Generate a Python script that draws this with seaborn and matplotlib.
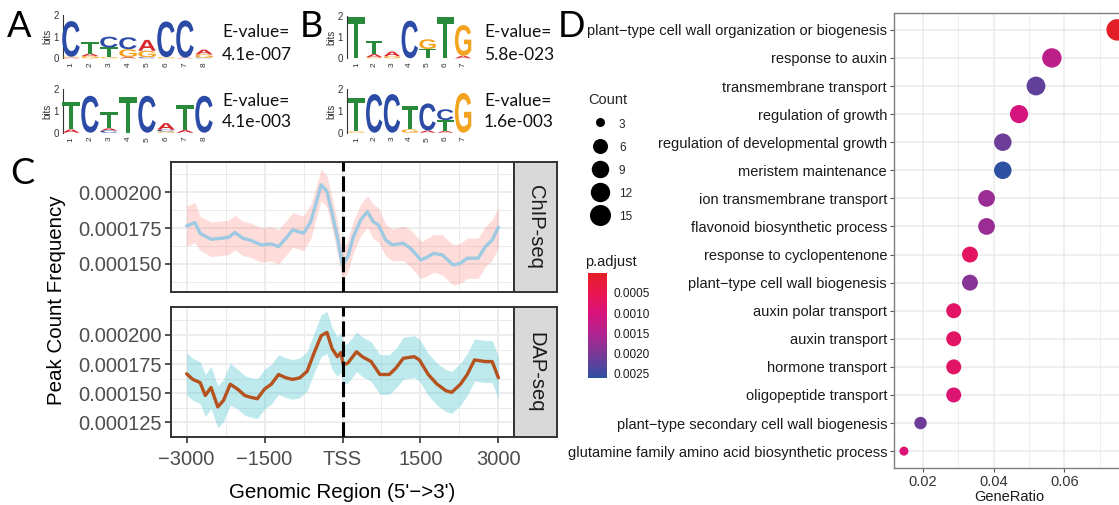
import numpy as np
import pandas as pd
import matplotlib
matplotlib.use("Agg")
import matplotlib.pyplot as plt
import seaborn as sns
from matplotlib import patheffects
from matplotlib.transforms import Affine2D
from matplotlib.colors import LinearSegmentedColormap, Normalize
from matplotlib.cm import ScalarMappable
from matplotlib.lines import Line2D
from matplotlib.ticker import FixedLocator

# ------------------------------------------------------------------ data
# Motif logos: per position, stacked letters bottom -> top as (letter, bits)
logo_A1 = [[("A", 0.03), ("G", 0.04), ("C", 1.65)],
           [("G", 0.10), ("A", 0.12), ("T", 0.55)],
           [("G", 0.06), ("T", 0.44), ("C", 0.50)],
           [("A", 0.06), ("G", 0.36), ("C", 0.55)],
           [("C", 0.05), ("G", 0.30), ("A", 0.50)],
           [("G", 0.05), ("C", 1.65)],
           [("A", 0.03), ("C", 1.72)],
           [("C", 0.03), ("G", 0.15), ("A", 0.22)]]
logo_A2 = [[("A", 0.15), ("T", 1.28)],
           [("C", 1.70)],
           [("C", 0.10), ("A", 0.10), ("T", 0.75)],
           [("T", 1.66)],
           [("C", 1.70)],
           [("G", 0.06), ("C", 0.08), ("A", 0.30)],
           [("A", 0.12), ("T", 1.15)],
           [("C", 1.70)]]
logo_B1 = [[("T", 1.95)],
           [("G", 0.05), ("A", 0.15), ("T", 0.63)],
           [("G", 0.10), ("A", 0.22)],
           [("C", 1.78)],
           [("T", 0.44), ("G", 0.46)],
           [("T", 1.95)],
           [("A", 0.12), ("G", 1.45)]]
logo_B2 = [[("G", 0.06), ("T", 1.56)],
           [("C", 1.78)],
           [("C", 1.78)],
           [("G", 0.15), ("T", 1.08)],
           [("A", 0.10), ("C", 1.25)],
           [("A", 0.08), ("T", 0.50), ("C", 0.50)],
           [("G", 1.83)]]
evalues_A = ["4.1e-007", "4.1e-003"]
evalues_B = ["5.8e-023", "1.6e-003"]

# Peak profiles (values in units of 1e-6)
chip_pos = [-3000, -2840, -2740, -2530, -2330, -2190, -2070, -1920, -1780, -1570, -1370,
            -1230, -1090, -960, -750, -610, -510, -410, -300, -200, -100, 0, 100, 210, 350,
            480, 590, 690, 830, 960, 1170, 1310, 1510, 1650, 1750, 1920, 2130, 2270, 2400,
            2610, 2750, 2880, 3000]
chip_mean = [176.5, 178.8, 171.4, 167.2, 167.9, 168.6, 171.9, 167.9, 166.7, 163.3, 164.0,
             162.0, 167.9, 173.7, 171.4, 179.5, 192.3, 205.1, 200.5, 185.3, 169.0, 149.3,
             155.1, 169.0, 180.7, 186.5, 179.5, 177.2, 166.7, 163.3, 164.4, 160.9, 152.8,
             155.1, 157.4, 156.3, 149.3, 150.5, 154.0, 154.0, 162.1, 166.7, 175.6]
chip_ci = [14, 14, 12, 12, 12, 12, 12, 12, 12, 12, 12, 12, 12, 12, 12, 12, 11, 11, 11, 11,
           11, 11, 11, 11, 11, 11, 12, 12, 11, 11, 12, 13, 13, 13, 13, 14, 14, 14, 14, 14,
           14, 14, 14]
dap_pos = [-3000, -2880, -2740, -2640, -2530, -2400, -2290, -2160, -2020, -1880, -1780,
           -1640, -1500, -1370, -1230, -1090, -960, -820, -680, -550, -410, -300, -200, -100,
           -30, 15, 100, 270, 380, 550, 720, 900, 1030, 1170, 1380, 1480, 1650, 1820, 1990,
           2100, 2270, 2400, 2540, 2750, 2880, 3000]
dap_mean = [166.7, 161.9, 159.2, 148.1, 155.0, 138.3, 143.9, 157.8, 153.6, 148.1, 146.7,
            145.3, 153.6, 157.8, 166.1, 163.3, 161.9, 163.3, 168.9, 184.2, 199.4, 202.2,
            188.3, 181.4, 185.0, 174.4, 175.8, 185.6, 181.4, 177.2, 166.1, 166.1, 171.7,
            180.0, 181.4, 178.6, 166.1, 157.8, 152.2, 150.8, 157.8, 166.1, 178.6, 177.2,
            177.2, 163.3]
dap_ci = [18, 18, 18, 18, 18, 18, 18, 18, 17, 17, 17, 17, 17, 17, 17, 17, 17, 17, 17, 17,
          18, 18, 18, 17, 17, 17, 17, 17, 17, 17, 17, 17, 17, 18, 18, 18, 18, 18, 18, 18,
          18, 18, 18, 18, 18, 18]
chip_yticks = [0.000150, 0.000175, 0.000200]
chip_yticklabels = ["0.000150", "0.000175", "0.000200"]
dap_yticks = [0.000125, 0.000150, 0.000175, 0.000200]
dap_yticklabels = ["0.000125", "0.000150", "0.000175", "0.000200"]
profile_xticks = [-3000, -1500, 0, 1500, 3000]
profile_xticklabels = ["\u22123000", "\u22121500", "TSS", "1500", "3000"]

# GO enrichment dot plot
go_terms = ["plant\u2212type cell wall organization or biogenesis", "response to auxin",
            "transmembrane transport", "regulation of growth",
            "regulation of developmental growth", "meristem maintenance",
            "ion transmembrane transport", "flavonoid biosynthetic process",
            "response to cyclopentenone", "plant\u2212type cell wall biogenesis",
            "auxin polar transport", "auxin transport", "hormone transport",
            "oligopeptide transport", "plant\u2212type secondary cell wall biogenesis",
            "glutamine family amino acid biosynthetic process"]
gene_ratio = [0.0750, 0.0565, 0.0520, 0.0472, 0.0426, 0.0426, 0.0380, 0.0380, 0.0333,
              0.0333, 0.0287, 0.0287, 0.0287, 0.0287, 0.0193, 0.0146]
go_count = [16, 12, 11, 10, 9, 9, 8, 8, 7, 7, 6, 6, 6, 6, 4, 3]
p_adjust = [0.00002, 0.00135, 0.00220, 0.00105, 0.00212, 0.00258, 0.00172, 0.00172,
            0.00068, 0.00190, 0.00072, 0.00072, 0.00072, 0.00090, 0.00210, 0.00092]
count_breaks = [3, 6, 9, 12, 15]
padj_ticks = [0.0005, 0.0010, 0.0015, 0.0020, 0.0025]
padj_ticklabels = ["0.0005", "0.0010", "0.0015", "0.0020", "0.0025"]
gr_ticks = [0.02, 0.04, 0.06]
gr_ticklabels = ["0.02", "0.04", "0.06"]

# ------------------------------------------------------------------ style
sns.set_style("white")
plt.rcParams["font.family"] = ["Liberation Sans", "DejaVu Sans"]
W, H = 1119, 505
fig = plt.figure(figsize=(W / 100, H / 100), dpi=100)


def px_axes(l, t, r, b, **kw):
    return fig.add_axes([l / W, 1 - b / H, (r - l) / W, (b - t) / H], **kw)


def ftext(x, y, s, **kw):
    return fig.text(x / W, 1 - y / H, s, **kw)


LOGO_COL = {"A": "#D8282E", "C": "#2B4BA6", "G": "#F3A320", "T": "#2A8A3C"}
LABEL_FONT = ["Lato", "DejaVu Sans"]


class FitGlyph(patheffects.AbstractPathEffect):
    """Stretch a real text glyph so it fills a box given in data coordinates."""

    def __init__(self, ax, box):
        super().__init__()
        self.ax = ax
        self.box = box

    def draw_path(self, renderer, gc, tpath, affine, rgbFace=None):
        ext = tpath.get_extents(affine)
        if ext.width <= 0 or ext.height <= 0:
            return
        (x0, y0), (x1, y1) = self.ax.transData.transform(
            [(self.box[0], self.box[1]), (self.box[2], self.box[3])])
        t = (Affine2D().translate(-ext.x0, -ext.y0)
             .scale((x1 - x0) / ext.width, (y1 - y0) / ext.height).translate(x0, y0))
        renderer.draw_path(gc, tpath, affine + t, rgbFace)


def draw_logo(l, t, r, b, stacks, xpad):
    ax = px_axes(l, t, r, b)
    n = len(stacks)
    for i, stack in enumerate(stacks, start=1):
        base = 0.0
        for letter, h in stack:
            txt = ax.text(i, base + h / 2, letter, color=LOGO_COL[letter], fontsize=1.5,
                          fontweight="bold", ha="center", va="center",
                          family="Liberation Sans")
            txt.set_path_effects([FitGlyph(ax, (i - 0.46, base, i + 0.46, base + h))])
            base += h
    ax.set_xlim(1 - xpad, n + 0.5)
    ax.set_ylim(0, 2)
    ax.set_facecolor("none")
    for s in ["top", "right", "bottom"]:
        ax.spines[s].set_visible(False)
    ax.spines["left"].set_color("#333333")
    ax.spines["left"].set_linewidth(0.8)
    ax.set_yticks([0, 1, 2])
    ax.set_yticklabels(["0", "1", "2"], fontsize=7, color="#333333")
    ax.set_xticks(range(1, n + 1))
    ax.set_xticklabels([str(k) for k in range(1, n + 1)], fontsize=6, rotation=90,
                       color="#333333")
    ax.tick_params(axis="both", length=2, width=0.6, pad=1, color="#333333")
    ax.set_ylabel("bits", fontsize=7, labelpad=1, color="#333333")
    return ax


# ------------------------------------------------------------------ panels A / B
draw_logo(63, 15, 213.5, 58.3, logo_A1, 0.42)
draw_logo(63, 89.3, 213.5, 132.7, logo_A2, 0.42)
draw_logo(347, 16, 472, 58.3, logo_B1, 0.53)
draw_logo(347, 89.3, 472, 132.7, logo_B2, 0.53)

ev_kw = dict(fontsize=12.5, family=LABEL_FONT, color="#111111", va="baseline")
ftext(222, 37, "E-value=", **ev_kw)
ftext(222, 60, evalues_A[0], **ev_kw)
ftext(222, 106, "E-value=", **ev_kw)
ftext(222, 127, evalues_A[1], **ev_kw)
ftext(484, 37, "E-value=", **ev_kw)
ftext(484, 60, evalues_B[0], **ev_kw)
ftext(484, 106, "E-value=", **ev_kw)
ftext(484, 127, evalues_B[1], **ev_kw)

pl_kw = dict(fontsize=26, family=LABEL_FONT, color="black", va="baseline")
ftext(7, 37, "A", **pl_kw)
ftext(300, 37, "B", **pl_kw)
ftext(10, 184, "C", **pl_kw)
ftext(558, 37, "D", **pl_kw)

# ------------------------------------------------------------------ panel C
GRID = "#EBEBEB"
BORDER = "#333333"


def profile_panel(top, bot, pos, mean, ci, line_col, band_col, band_alpha,
                  yticks, yticklabels, ylim, label, show_x):
    ax = px_axes(171, top, 514, bot)
    pos = np.asarray(pos, float)
    m = np.asarray(mean) * 1e-6
    c = np.asarray(ci) * 1e-6
    ax.fill_between(pos, m - c, m + c, color=band_col, alpha=band_alpha, lw=0, zorder=2)
    sns.lineplot(x=pos, y=m, ax=ax, color=line_col, lw=2.4, zorder=3)
    ax.axvline(0, color="black", lw=2.2, dashes=(5, 1.6), zorder=4)
    ax.set_xlim(-3300, 3300)
    ax.set_ylim(*ylim)
    ax.set_xticks(profile_xticks)
    ax.set_xticks([-2250, -750, 750, 2250], minor=True)
    step = yticks[1] - yticks[0]
    ax.set_yticks(yticks)
    ax.set_yticks([v + step / 2 for v in [yticks[0] - step] + yticks], minor=True)
    ax.set_yticklabels(yticklabels, fontsize=14.5, color="#4D4D4D")
    ax.grid(True, which="major", color=GRID, lw=1.3, zorder=0)
    ax.grid(True, which="minor", color=GRID, lw=0.7, zorder=0)
    ax.set_axisbelow(True)
    ax.tick_params(axis="both", which="major", length=4.5, width=1.2, color=BORDER,
                   left=True, bottom=show_x, pad=2)
    ax.tick_params(axis="x", which="major", pad=5)
    ax.tick_params(axis="both", which="minor", length=0)
    if show_x:
        ax.set_xticklabels(profile_xticklabels, fontsize=14.5, color="#4D4D4D")
    else:
        ax.set_xticklabels([])
    ax.set_xlabel("")
    ax.set_ylabel("")
    for s in ax.spines.values():
        s.set_color(BORDER)
        s.set_linewidth(1.4)
    sax = px_axes(514, top, 557, bot)
    sax.set_facecolor("#D9D9D9")
    sax.set_xticks([])
    sax.set_yticks([])
    for s in sax.spines.values():
        s.set_color(BORDER)
        s.set_linewidth(1.4)
    sax.text(0.5, 0.5, label, rotation=-90, ha="center", va="center", fontsize=14.5,
             color="#1A1A1A", transform=sax.transAxes)
    return ax


profile_panel(162, 292, chip_pos, chip_mean, chip_ci, "#9DCAE2", "#F8766D", 0.25,
              chip_yticks, chip_yticklabels, (0.0001305, 0.000221), "ChIP-seq", False)
axC2 = profile_panel(307, 437, dap_pos, dap_mean, dap_ci, "#B5521E", "#6FCFD9", 0.45,
                     dap_yticks, dap_yticklabels, (0.0001163, 0.000224), "DAP-seq", True)
ftext(342, 493, "Genomic Region (5'\u2212>3')", fontsize=14.8, ha="center", va="center",
      color="black")
ftext(56, 300, "Peak Count Frequency", fontsize=14.8, ha="center", va="center",
      rotation=90, color="black")

# ------------------------------------------------------------------ panel D
cmap = LinearSegmentedColormap.from_list(
    "padj", [(0.0, "#E41E26"), (0.19, "#EA1651"), (0.38, "#D9137B"),
             (0.58, "#B12490"), (0.77, "#7B3897"), (0.96, "#3B4BA0"),
             (1.0, "#2B51A1")])
pnorm = Normalize(vmin=0.00001, vmax=0.0026)


def dot_px(c):
    size = 3 + 5 * np.sqrt((c - 3) / 13.0)
    return 2.5 * size + 1.5


df = pd.DataFrame({"Description": go_terms, "GeneRatio": gene_ratio,
                   "Count": go_count, "p.adjust": p_adjust})
size_map = {c: (dot_px(c) * 0.72) ** 2 for c in sorted(set(go_count))}

axD = px_axes(894, 13, 1125.3, 468)
sns.scatterplot(data=df, x="GeneRatio", y="Description", hue="p.adjust",
                size="Count", sizes=size_map, palette=cmap, hue_norm=pnorm,
                linewidth=0, legend=False, ax=axD, zorder=3)
axD.set_xlim(0.01178, 0.0773)
axD.set_ylim(len(go_terms) - 0.4, -0.6)
axD.xaxis.set_major_locator(FixedLocator(gr_ticks))
axD.xaxis.set_minor_locator(FixedLocator([0.03, 0.05, 0.07]))
axD.set_xticks(gr_ticks, labels=gr_ticklabels)
for lab in axD.get_xticklabels():
    lab.set_fontsize(10.5)
    lab.set_color("#333333")
axD.tick_params(axis="y", labelsize=10.5, labelcolor="#1A1A1A", length=3, width=0.8,
                color="#555555", left=True, pad=2)
axD.tick_params(axis="x", which="major", length=3, width=0.8, color="#555555",
                bottom=True, pad=2)
axD.tick_params(axis="x", which="minor", length=0)
axD.grid(True, which="major", color=GRID, lw=1.1, zorder=0)
axD.grid(True, which="minor", axis="x", color=GRID, lw=0.6, zorder=0)
axD.set_axisbelow(True)
axD.set_ylabel("")
axD.set_xlabel("GeneRatio", fontsize=10.5, labelpad=1, color="#1A1A1A")
for s in axD.spines.values():
    s.set_color("#7F7F7F")
    s.set_linewidth(1.0)

# Count legend
handles = [Line2D([], [], marker="o", ls="", color="black", markeredgewidth=0,
                  markersize=dot_px(c) * 0.72) for c in count_breaks]
fig.legend(handles, [str(c) for c in count_breaks], title="Count", loc="upper left",
           bbox_to_anchor=(580 / W, 1 - 85 / H), frameon=False, fontsize=8.5,
           title_fontsize=10.5, handleheight=1.25, labelspacing=0.85,
           handletextpad=0.6, borderpad=0.2, alignment="left")

# p.adjust colourbar
cax = px_axes(588, 273, 607, 378)
cb = fig.colorbar(ScalarMappable(norm=pnorm, cmap=cmap), cax=cax)
cax.invert_yaxis()
cb.set_ticks(padj_ticks)
cb.set_ticklabels(padj_ticklabels)
cb.outline.set_visible(False)
cax.tick_params(axis="y", direction="in", color="white", length=4, width=0.8,
                left=True, right=True, labelleft=False, labelright=True,
                labelsize=8.5, labelcolor="#1A1A1A", pad=5)
ftext(585, 262, "p.adjust", fontsize=10.5, va="center", ha="left", color="#1A1A1A")

fig.savefig("out.png", dpi=100)
